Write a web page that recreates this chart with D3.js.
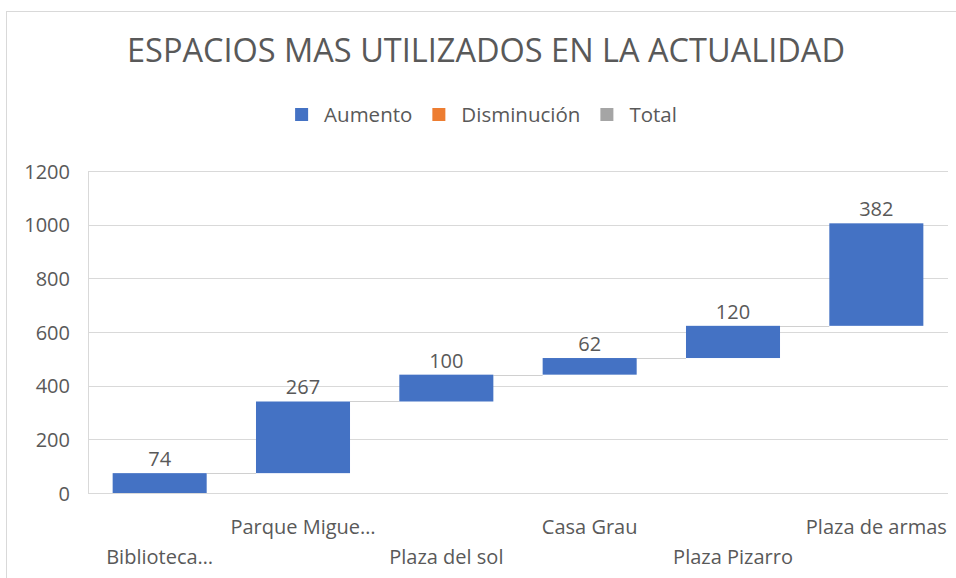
<!DOCTYPE html>
<html>
<head>
<meta charset="utf-8">
<script src="https://cdn.jsdelivr.net/npm/d3@7"></script>
<style>
  html, body { margin: 0; padding: 0; background: #ffffff; }
  svg { display: block; }
  text { font-family: "Open Sans", "Noto Sans", sans-serif; fill: #595959; }
</style>
</head>
<body>
<svg id="chart" width="956" height="578"></svg>
<script>
// ---- data ----
const categories = ["Biblioteca…", "Parque Migue…", "Plaza del sol", "Casa Grau", "Plaza Pizarro", "Plaza de armas"];
const increments = [74, 267, 100, 62, 120, 382];
const yTicks = [0, 200, 400, 600, 800, 1000, 1200];
const legendLabels = ["Aumento", "Disminución", "Total"];
const legendColors = ["#4472C4", "#ED7D31", "#A5A5A5"];
const titleText = "ESPACIOS MAS UTILIZADOS EN LA ACTUALIDAD";

// ---- layout ----
const plot = { left: 88, right: 948, top: 171, bottom: 493 };

const svg = d3.select("#chart");

// chart border (right/bottom edges off-canvas)
svg.append("rect")
  .attr("x", 6.5).attr("y", 11.5)
  .attr("width", 1000).attr("height", 700)
  .attr("fill", "none").attr("stroke", "#d9d9d9").attr("stroke-width", 1);

// waterfall data
let run = 0;
const steps = increments.map((v, i) => {
  const start = run;
  run += v;
  return { cat: categories[i], value: v, start: start, end: run, i: i };
});

const x = d3.scaleBand()
  .domain(categories)
  .range([plot.left, plot.right])
  .paddingInner(0.344)
  .paddingOuter(0.172);

const y = d3.scaleLinear()
  .domain([0, 1200])
  .range([plot.bottom, plot.top]);

// gridlines
svg.append("g")
  .selectAll("line")
  .data(yTicks)
  .join("line")
  .attr("x1", plot.left).attr("x2", plot.right)
  .attr("y1", d => Math.round(y(d)) + 0.5)
  .attr("y2", d => Math.round(y(d)) + 0.5)
  .attr("stroke", "#d9d9d9").attr("stroke-width", 1);

// left plot-area edge
svg.append("line")
  .attr("x1", plot.left + 0.5).attr("x2", plot.left + 0.5)
  .attr("y1", Math.round(y(1200)) + 0.5).attr("y2", Math.round(y(0)) + 0.5)
  .attr("stroke", "#d9d9d9").attr("stroke-width", 1);

// y axis (labels only)
const yAxis = d3.axisLeft(y).tickValues(yTicks).tickFormat(d3.format("d")).tickSize(0).tickPadding(0);
const yg = svg.append("g")
  .attr("transform", `translate(${70},0)`)
  .call(yAxis);
yg.select(".domain").remove();
yg.selectAll("text")
  .attr("font-family", "\"Open Sans\", sans-serif")
  .attr("font-size", 20)
  .attr("fill", "#595959")
  .attr("dy", "0.36em");

// connectors
svg.append("g")
  .selectAll("line")
  .data(steps.slice(0, -1))
  .join("line")
  .attr("x1", d => x(d.cat) + x.bandwidth())
  .attr("x2", d => x(categories[d.i + 1]))
  .attr("y1", d => Math.round(y(d.end)) + 0.5)
  .attr("y2", d => Math.round(y(d.end)) + 0.5)
  .attr("stroke", "#d0d0d0").attr("stroke-width", 1);

// bars
svg.append("g")
  .selectAll("rect")
  .data(steps)
  .join("rect")
  .attr("x", d => x(d.cat))
  .attr("width", x.bandwidth())
  .attr("y", d => y(d.end))
  .attr("height", d => y(d.start) - y(d.end))
  .attr("fill", legendColors[0]);

// data labels
svg.append("g")
  .selectAll("text")
  .data(steps)
  .join("text")
  .attr("x", d => x(d.cat) + x.bandwidth() / 2)
  .attr("y", d => y(d.end) - 7)
  .attr("text-anchor", "middle")
  .attr("font-size", 20)
  .text(d => d.value);

// x axis labels (staggered)
const xAxis = d3.axisBottom(x).tickSize(0).tickPadding(0);
const xg = svg.append("g").attr("transform", `translate(0,${plot.bottom})`).call(xAxis);
xg.select(".domain").remove();
xg.selectAll("text")
  .attr("font-family", "\"Open Sans\", sans-serif")
  .attr("font-size", 20)
  .attr("fill", "#595959")
  .attr("dy", 0)
  .attr("y", (d, i) => (i % 2 === 1 ? 534 : 564) - plot.bottom);

// title
svg.append("text")
  .attr("x", 486).attr("y", 62)
  .attr("text-anchor", "middle")
  .attr("font-size", 32.5)
  .text(titleText);

// legend
const legend = svg.append("g");
let lx = 0;
legendLabels.forEach((lab, i) => {
  const g = legend.append("g");
  g.append("rect").attr("x", 0).attr("y", -14).attr("width", 13).attr("height", 13).attr("fill", legendColors[i]);
  const t = g.append("text").attr("x", 29).attr("y", 0).attr("font-size", 20.5).text(lab);
  const w = 29 + t.node().getComputedTextLength();
  g.attr("transform", `translate(${lx},0)`);
  lx += w + 20;
});
const totalW = lx - 20;
legend.attr("transform", `translate(${486 - totalW / 2},${122})`);
</script>
</body>
</html>
